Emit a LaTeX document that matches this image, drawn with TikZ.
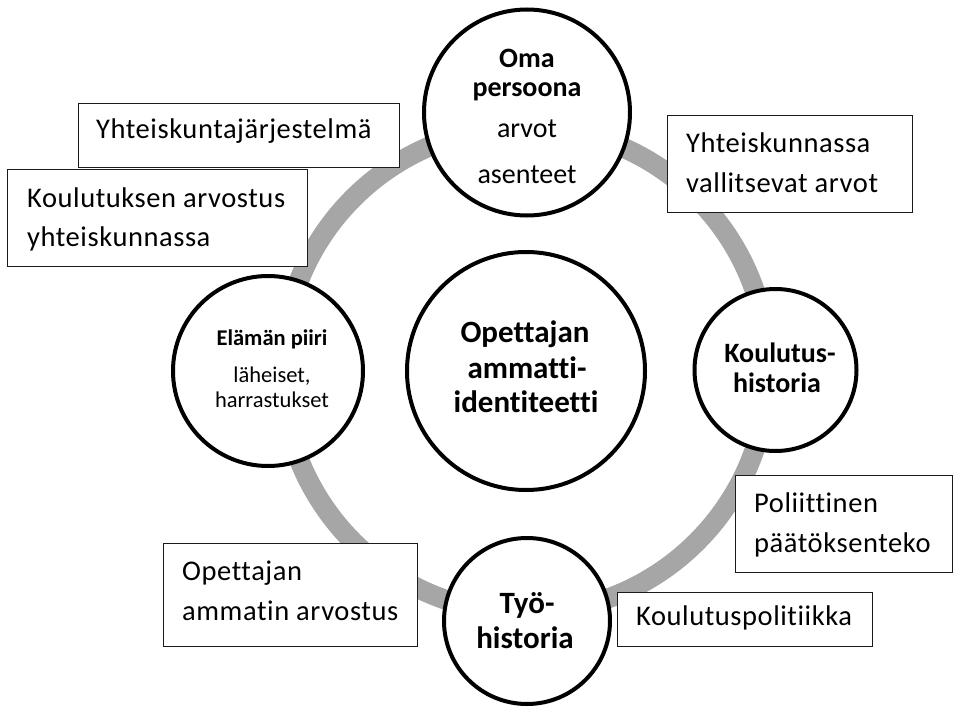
\documentclass[tikz,border=0pt]{standalone}
\usepackage{fontspec}
\setmainfont{Carlito}[Ligatures={NoCommon,NoContextual}]
\newfontfamily\boxfont{Carlito}[Ligatures={NoCommon,NoContextual},LetterSpace=2]
\definecolor{ringgray}{HTML}{A6A6A6}
\definecolor{boxline}{HTML}{1A1A1A}
\begin{document}
\begin{tikzpicture}[x=1pt,y=-1pt,
  ring/.style={draw=ringgray, line width=20pt},
  hub/.style={circle, draw=black, line width=4pt, fill=white, inner sep=0pt},
  factor/.style={rectangle, draw=boxline, line width=1.5pt, fill=white, inner sep=0pt},
  boxtext/.style={inner sep=0pt, anchor=base west, font=\boxfont\fontsize{28.5}{34}\selectfont},
  hubbold/.style={inner sep=0pt, anchor=base, font=\fontsize{#1}{#1}\selectfont\bfseries},
  hubplain/.style={inner sep=0pt, anchor=base, font=\fontsize{#1}{#1}\selectfont}]
\useasboundingbox (0,0) rectangle (954,709);

% connecting ring behind the circles
\draw[ring] (525,370) circle[radius=243pt];

% circles
\node[hub, minimum size=206pt] (persona) at (527,112.5) {};
\node[hub, minimum size=190pt] (lifecircle) at (268,371) {};
\node[hub, minimum size=162pt] (eduhistory) at (775.5,370) {};
\node[hub, minimum size=166pt] (workhistory) at (527,621) {};
\node[hub, minimum size=238pt] (identity) at (526,371) {};

% texts of the circles
\node[hubbold=28] (persona1) at (527,68) {Oma};
\node[hubbold=28] (persona2) at (527,97) {persoona};
\node[hubplain=28] (persona3) at (527,138) {arvot};
\node[hubplain=28] (persona4) at (527,183) {asenteet};

\node[hubbold=22.5] (life1) at (272,345) {Elämän piiri};
\node[hubplain=22.5] (life2) at (272,382) {läheiset,};
\node[hubplain=22.5] (life3) at (272,407) {harrastukset};

\node[hubbold=28] (edu1) at (780,362) {Koulutus-};
\node[hubbold=28] (edu2) at (777,392) {historia};

\node[hubbold=31] (work1) at (527,613) {Työ-};
\node[hubbold=31] (work2) at (525,648) {historia};

\node[hubbold=31] (ident1) at (525,342) {Opettajan};
\node[hubbold=31] (ident2) at (527,378) {ammatti-};
\node[hubbold=31] (ident3) at (526,412) {identiteetti};

% surrounding factor boxes
\node[factor, minimum width=321pt, minimum height=64pt] (system) at (239,135.5) {};
\node[factor, minimum width=300pt, minimum height=97pt] (eduvalue) at (157.5,218) {};
\node[factor, minimum width=245pt, minimum height=97pt] (values) at (790,164) {};
\node[factor, minimum width=254pt, minimum height=103pt] (profvalue) at (290.5,595) {};
\node[factor, minimum width=217pt, minimum height=97pt] (politics) at (844,524) {};
\node[factor, minimum width=255pt, minimum height=54pt] (edupolicy) at (745,619.5) {};

% texts of the boxes
\node[boxtext] (system1) at (96,139) {Yhteiskuntajärjestelmä};
\node[boxtext] (eduvalue1) at (27,207) {Koulutuksen arvostus};
\node[boxtext] (eduvalue2) at (27,246) {yhteiskunnassa};
\node[boxtext] (values1) at (686,153) {Yhteiskunnassa};
\node[boxtext] (values2) at (686,192) {vallitsevat arvot};
\node[boxtext] (profvalue1) at (182,580) {Opettajan};
\node[boxtext] (profvalue2) at (182,620) {ammatin arvostus};
\node[boxtext] (politics1) at (754,512) {Poliittinen};
\node[boxtext] (politics2) at (754,552) {päätöksenteko};
\node[boxtext] (edupolicy1) at (636,625) {Koulutuspolitiikka};
\end{tikzpicture}
\end{document}
